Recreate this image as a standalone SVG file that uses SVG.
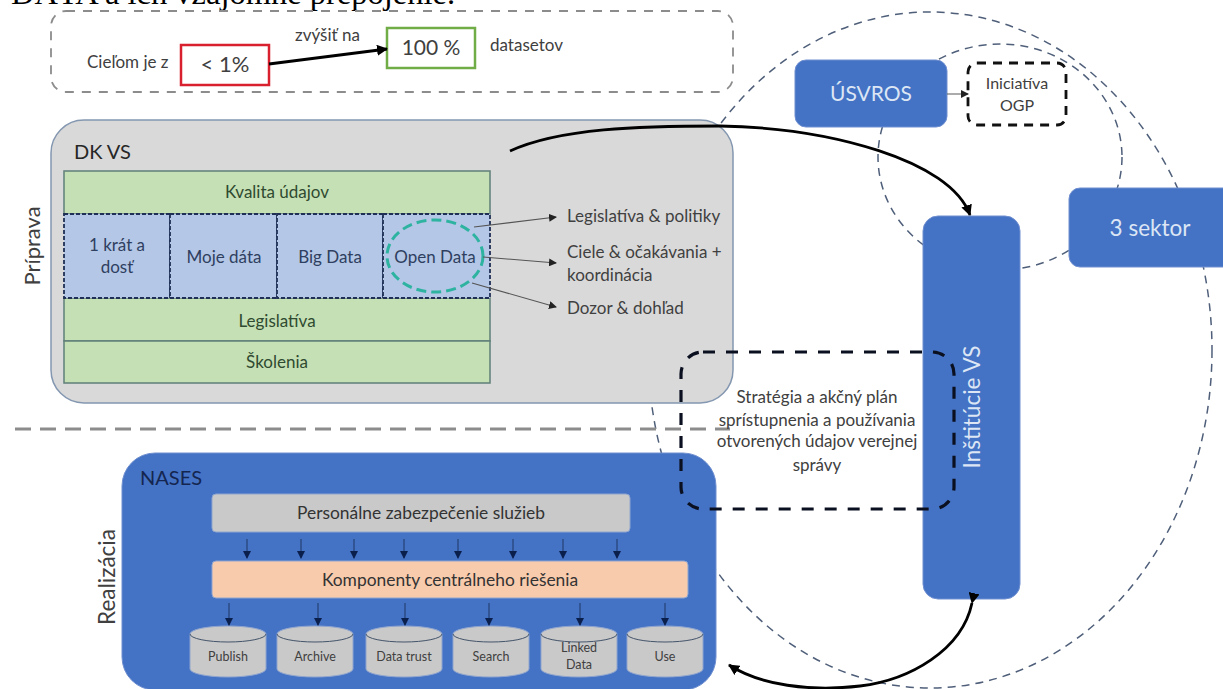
<svg xmlns="http://www.w3.org/2000/svg" width="1223" height="689" viewBox="0 0 1223 689">
<style>
text{font-family:"Lato","Liberation Sans",sans-serif;fill:#404040;text-anchor:middle}
.l{text-anchor:start}
.w{fill:#DCE6F5}
.thin{fill:none;stroke:#4F5F7A;stroke-width:1.5;stroke-dasharray:8 6}
.blk{fill:none;stroke:#000;stroke-width:2.8}
.ds{fill:none;stroke:#0B1020;stroke-width:3.2;stroke-dasharray:12 11}
.grn{fill:#C5E0B4;stroke:#5F7F78;stroke-width:1.5}
.cell{fill:#B4C7E7;stroke:#1F2F55;stroke-width:1.8;stroke-dasharray:4 2}
.blue{fill:#4472C4;stroke:#6F8FD0;stroke-width:1}
.cyl{fill:#C9C9C9;stroke:#8FA5CF;stroke-width:1}
.seam{fill:none;stroke:#44546A;stroke-width:1}
.ar{fill:none;stroke:#555;stroke-width:1.1}
.ar2{fill:none;stroke:#1F3864;stroke-width:1}
</style>
<defs>
<marker id="a" markerUnits="userSpaceOnUse" markerWidth="11" markerHeight="11" refX="10" refY="5.5" orient="auto"><path d="M0 0L11 5.5L0 11z" fill="#000"/></marker>
<marker id="as" markerUnits="userSpaceOnUse" markerWidth="11" markerHeight="11" refX="1" refY="5.5" orient="auto"><path d="M11 0L0 5.5L11 11z" fill="#000"/></marker>
<marker id="b" markerUnits="userSpaceOnUse" markerWidth="8" markerHeight="8" refX="7" refY="4" orient="auto"><path d="M0 0L8 4L0 8z" fill="#222"/></marker>
<marker id="n" markerUnits="userSpaceOnUse" markerWidth="8" markerHeight="8" refX="7" refY="4" orient="auto"><path d="M0 0L8 4L0 8z" fill="#0B1F4D"/></marker>
</defs>
<rect width="1223" height="689" fill="#fff"/>
<text class="l" x="11" y="4" style="font-family:'Liberation Serif',serif;fill:#000" font-size="32.5">DÁTA a ich vzájomné prepojenie.</text>

<g id="connectors-back">
<ellipse class="thin" cx="930" cy="350" rx="282" ry="338"/>
<ellipse class="thin" cx="1000" cy="157" rx="122" ry="113"/>
<path d="M15 429H730" fill="none" stroke="#8C8C8C" stroke-width="3" stroke-dasharray="16 9"/>
</g>

<g id="goal-box">
<rect x="51" y="11" width="682" height="81" rx="15" fill="none" stroke="#8C8C8C" stroke-width="1.8" stroke-dasharray="9 8"/>
<text class="l" x="87" y="68" font-size="17">Cieľom je z</text>
<text class="l" x="295" y="41" font-size="17">zvýšiť na</text>
<text class="l" x="490" y="51" font-size="17">datasetov</text>
</g>
<g id="from-box">
<rect x="181" y="45" width="88" height="40" fill="#fff" stroke="#D8202F" stroke-width="2.5"/>
<text x="225" y="72" font-size="22">&lt; 1%</text>
</g>
<g id="to-box">
<rect x="387" y="28" width="88" height="40" fill="#fff" stroke="#70AD47" stroke-width="2.5"/>
<text x="431" y="55" font-size="21">100 %</text>
</g>

<g id="dk-vs">
<rect x="51" y="120" width="682" height="283" rx="33" fill="#D9D9D9" stroke="#8497B0" stroke-width="1.5"/>
<text class="l" x="74" y="159" font-size="20" style="fill:#262626">DK VS</text>
<rect class="grn" x="64" y="171" width="426" height="43"/>
<text x="277" y="198" font-size="17" style="fill:#2F4A30">Kvalita údajov</text>
<rect class="grn" x="64" y="298" width="426" height="43"/>
<text x="277" y="327" font-size="17" style="fill:#2F4A30">Legislatíva</text>
<rect class="grn" x="64" y="341" width="426" height="42"/>
<text x="277" y="368" font-size="17" style="fill:#2F4A30">Školenia</text>
</g>
<g id="cell-1">
<rect class="cell" x="64" y="214" width="106" height="84"/>
<text x="117" y="251" font-size="17" style="fill:#2F3F60">1 krát a</text>
<text x="117" y="273" font-size="17" style="fill:#2F3F60">dosť</text>
</g>
<g id="cell-2">
<rect class="cell" x="170" y="214" width="107" height="84"/>
<text x="224" y="263" font-size="17" style="fill:#2F3F60">Moje dáta</text>
</g>
<g id="cell-3">
<rect class="cell" x="277" y="214" width="106" height="84"/>
<text x="330" y="263" font-size="17" style="fill:#2F3F60">Big Data</text>
</g>
<g id="cell-4">
<rect class="cell" x="383" y="214" width="107" height="84"/>
<ellipse cx="435" cy="256" rx="48" ry="36" fill="none" stroke="#2DB3A0" stroke-width="3" stroke-dasharray="10 5"/>
<text x="435" y="263" font-size="17" style="fill:#2F3F60">Open Data</text>
</g>
<g id="dk-notes">
<text class="l" x="567" y="222" font-size="17">Legislatíva &amp; politiky</text>
<text class="l" x="567" y="258" font-size="17">Ciele &amp; očakávania +</text>
<text class="l" x="567" y="281" font-size="17">koordinácia</text>
<text class="l" x="567" y="314" font-size="17">Dozor &amp; dohľad</text>
</g>

<g id="nases">
<rect class="blue" x="122" y="453" width="594" height="237" rx="33"/>
<text class="l" x="140" y="485" font-size="20" style="fill:#14264F">NASES</text>
<rect x="212" y="494" width="418" height="38" rx="4" fill="#C9C9C9" stroke="#8FA5CF"/>
<text x="421" y="519" font-size="17.4" style="fill:#333">Personálne zabezpečenie služieb</text>
<rect x="212" y="561" width="476" height="37" rx="4" fill="#F8CBAD" stroke="#8FA5CF"/>
<text x="450" y="586" font-size="17.4" style="fill:#333">Komponenty centrálneho riešenia</text>
</g>

<g id="cyl-publish"><path class="cyl" d="M190 634a38 8 0 0 1 76 0v35a38 8 0 0 1-76 0z"/><path class="seam" d="M190 634a38 8 0 0 0 76 0"/><text x="228" y="661" font-size="12.5">Publish</text></g>
<g id="cyl-archive"><path class="cyl" d="M277 634a38 8 0 0 1 76 0v35a38 8 0 0 1-76 0z"/><path class="seam" d="M277 634a38 8 0 0 0 76 0"/><text x="315" y="661" font-size="12.5">Archive</text></g>
<g id="cyl-trust"><path class="cyl" d="M366 634a38 8 0 0 1 76 0v35a38 8 0 0 1-76 0z"/><path class="seam" d="M366 634a38 8 0 0 0 76 0"/><text x="404" y="661" font-size="12.5">Data trust</text></g>
<g id="cyl-search"><path class="cyl" d="M453 634a38 8 0 0 1 76 0v35a38 8 0 0 1-76 0z"/><path class="seam" d="M453 634a38 8 0 0 0 76 0"/><text x="491" y="661" font-size="12.5">Search</text></g>
<g id="cyl-linked"><path class="cyl" d="M541 634a38 8 0 0 1 76 0v35a38 8 0 0 1-76 0z"/><path class="seam" d="M541 634a38 8 0 0 0 76 0"/><text x="579" y="652" font-size="12.5">Linked</text><text x="579" y="669" font-size="12.5">Data</text></g>
<g id="cyl-use"><path class="cyl" d="M627 634a38 8 0 0 1 76 0v35a38 8 0 0 1-76 0z"/><path class="seam" d="M627 634a38 8 0 0 0 76 0"/><text x="665" y="661" font-size="12.5">Use</text></g>

<g id="usvros">
<rect class="blue" x="795" y="60" width="152" height="67" rx="11"/>
<text class="w" x="871" y="101" font-size="21">ÚSVROS</text>
</g>
<g id="ogp">
<rect x="968" y="63" width="98" height="62" rx="9" fill="#fff" stroke="#111" stroke-width="2.8" stroke-dasharray="9 7"/>
<text x="1017" y="89" font-size="16">Iniciatíva</text>
<text x="1017" y="111" font-size="16">OGP</text>
</g>
<g id="sektor">
<rect class="blue" x="1069" y="188" width="170" height="79" rx="11"/>
<text class="w" x="1150" y="236" font-size="22.5">3 sektor</text>
</g>
<g id="institucie">
<rect class="blue" x="923" y="216" width="97" height="383" rx="15"/>
<text class="w" transform="translate(980 407) rotate(-90)" font-size="22.5">Inštitúcie VS</text>
</g>

<g id="strategy">
<text x="817" y="403" font-size="17">Stratégia a akčný plán</text>
<text x="817" y="426" font-size="17">sprístupnenia a používania</text>
<text x="817" y="447" font-size="17">otvorených údajov verejnej</text>
<text x="817" y="471" font-size="17">správy</text>
<rect class="ds" x="681" y="352" width="273" height="157" rx="22"/>
</g>

<g id="side-labels">
<text transform="translate(40 246) rotate(-90)" font-size="22">Príprava</text>
<text transform="translate(115 577) rotate(-90)" font-size="22.5">Realizácia</text>
</g>

<g id="connectors">
<path d="M269 64L387 49" class="blk" marker-end="url(#a)"/>
<path d="M510 151C560 128 640 126 720 126C830 128 950 160 970 215" class="blk" marker-end="url(#a)"/>
<path d="M972 603C962 650 910 680 860 686C810 692 760 685 729 665" class="blk" marker-start="url(#a)" marker-end="url(#a)"/>
<path d="M947 94H968" fill="none" stroke="#666" stroke-width="1.1" marker-end="url(#b)"/>
<path d="M474 227L556 217" class="ar" marker-end="url(#b)"/>
<path d="M483 257L556 263" class="ar" marker-end="url(#b)"/>
<path d="M472 283L556 307" class="ar" marker-end="url(#b)"/>
<g class="ar2">
<path d="M247 539V558" marker-end="url(#n)"/><path d="M301 539V558" marker-end="url(#n)"/><path d="M354 539V558" marker-end="url(#n)"/><path d="M404 539V558" marker-end="url(#n)"/><path d="M458 539V558" marker-end="url(#n)"/><path d="M513 539V558" marker-end="url(#n)"/><path d="M563 539V558" marker-end="url(#n)"/><path d="M617 539V558" marker-end="url(#n)"/>
<path d="M229 603V625" marker-end="url(#n)"/><path d="M318 603V625" marker-end="url(#n)"/><path d="M405 603V625" marker-end="url(#n)"/><path d="M489 603V625" marker-end="url(#n)"/><path d="M580 603V625" marker-end="url(#n)"/><path d="M665 603V625" marker-end="url(#n)"/>
</g>
</g>
</svg>
